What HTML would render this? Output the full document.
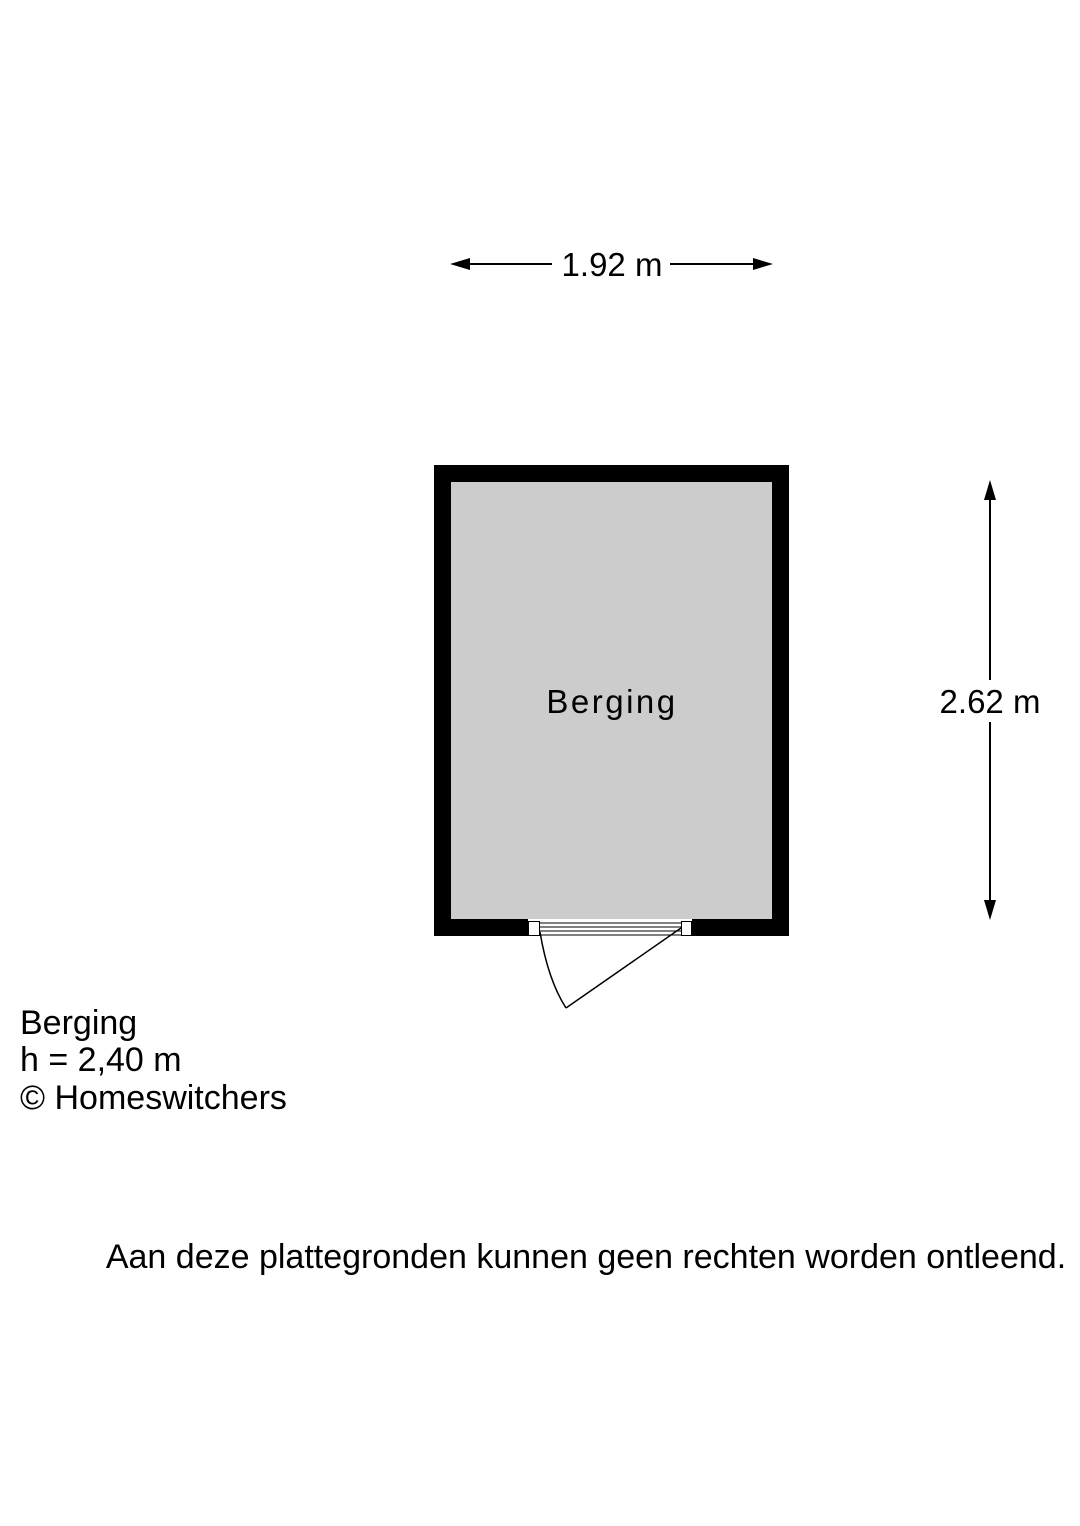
<!DOCTYPE html>
<html><head><meta charset="utf-8"><style>
html,body{margin:0;padding:0;background:#fff;}
svg{display:block;}
text{font-family:"Liberation Sans",Arial,sans-serif;fill:#000;}
</style></head><body>
<svg width="1080" height="1526" viewBox="0 0 1080 1526" xmlns="http://www.w3.org/2000/svg">
<rect width="1080" height="1526" fill="#fff"/>
<line x1="462" y1="264" x2="552" y2="264" stroke="#000" stroke-width="2"/>
<polygon points="450,264 470,258 470,270" fill="#000"/>
<line x1="670" y1="264" x2="760" y2="264" stroke="#000" stroke-width="2"/>
<polygon points="773,264 753,258 753,270" fill="#000"/>
<text x="612" y="276" font-size="33" text-anchor="middle">1.92 m</text>
<line x1="990" y1="492" x2="990" y2="680" stroke="#000" stroke-width="2"/>
<polygon points="990,480 984,500 996,500" fill="#000"/>
<line x1="990" y1="722" x2="990" y2="908" stroke="#000" stroke-width="2"/>
<polygon points="990,920 984,900 996,900" fill="#000"/>
<text x="990" y="713" font-size="33" text-anchor="middle">2.62 m</text>
<rect x="434" y="465" width="355" height="471" fill="#000"/>
<rect x="451" y="482" width="321" height="437" fill="#ccc"/>
<rect x="528" y="919" width="164" height="18" fill="#fff"/>
<rect x="528.5" y="921.5" width="11" height="14" fill="#fff" stroke="#000" stroke-width="1"/>
<rect x="681.5" y="921.5" width="10" height="14" fill="#fff" stroke="#000" stroke-width="1"/>
<line x1="540" y1="923" x2="681" y2="923" stroke="#000" stroke-width="1"/>
<line x1="540" y1="927" x2="681" y2="927" stroke="#000" stroke-width="1"/>
<line x1="540" y1="931" x2="681" y2="931" stroke="#000" stroke-width="1"/>
<line x1="540" y1="935" x2="681" y2="935" stroke="#000" stroke-width="1"/>
<path d="M540,932 Q548,980 566,1008" fill="none" stroke="#000" stroke-width="1.5"/>
<line x1="566" y1="1008" x2="681" y2="928" stroke="#000" stroke-width="1.5"/>
<text x="612" y="713" font-size="33" text-anchor="middle" letter-spacing="2.5">Berging</text>
<text x="20" y="1034" font-size="34">Berging</text>
<text x="20" y="1071" font-size="34">h = 2,40 m</text>
<text x="20" y="1109" font-size="34">© Homeswitchers</text>
<text x="586" y="1268" font-size="34" text-anchor="middle">Aan deze plattegronden kunnen geen rechten worden ontleend.</text>
</svg>
</body></html>
